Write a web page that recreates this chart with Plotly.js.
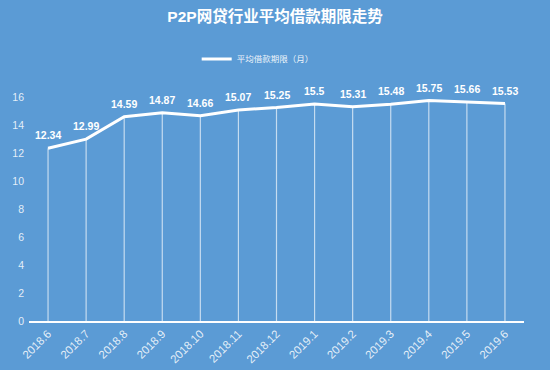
<!DOCTYPE html>
<html><head><meta charset="utf-8">
<script src="https://cdn.plot.ly/plotly-3.0.1.min.js"></script>
<style>body{margin:0;padding:0;background:#5b9bd5;}</style>
</head><body>
<div id="chart" style="width:550px;height:370px;"></div>
<script>
const months = ["2018.6","2018.7","2018.8","2018.9","2018.10","2018.11","2018.12","2019.1","2019.2","2019.3","2019.4","2019.5","2019.6"];
const terms = [12.34,12.99,14.59,14.87,14.66,15.07,15.25,15.5,15.31,15.48,15.75,15.66,15.53];
const seriesName = "平均借款期限（月）";
const chartTitle = "P2P网贷行业平均借款期限走势";

const dropLines = {
  x: months, y: terms, type: "scatter", mode: "none", showlegend: false, hoverinfo: "skip",
  error_y: {type: "data", symmetric: false, array: terms.map(() => 0), arrayminus: terms, width: 0, thickness: 1.2, color: "rgba(255,255,255,0.65)"}
};
const line = {
  x: months, y: terms, type: "scatter", mode: "lines", name: seriesName,
  line: {color: "#ffffff", width: 3}
};
const labels = terms.map((v, i) => ({
  x: i, y: v, xref: "x", yref: "y", text: "<b>" + v + "</b>", showarrow: false,
  yanchor: "bottom", yshift: 5,
  font: {family: "Arial, Liberation Sans, sans-serif", size: 10.5, color: "#ffffff"}
}));
const layout = {
  width: 550, height: 370,
  paper_bgcolor: "#5b9bd5", plot_bgcolor: "#5b9bd5",
  margin: {l: 29, r: 26, t: 97, b: 49},
  font: {family: "Arial, Liberation Sans, Noto Sans CJK SC, sans-serif", color: "#ffffff"},
  title: {text: "<b>" + chartTitle + "</b>", x: 0.5, xanchor: "center", y: 0.955, yanchor: "middle",
          font: {size: 15.5, color: "#ffffff", family: "Arial, Liberation Sans, Noto Sans CJK SC, sans-serif"}},
  showlegend: true,
  legend: {orientation: "h", x: 0.462, xanchor: "center", y: 1.17, yanchor: "middle",
           font: {size: 8.5, color: "rgba(255,255,255,0.9)"}, bgcolor: "rgba(0,0,0,0)", itemwidth: 30},
  annotations: labels,
  xaxis: {type: "category", range: [-0.5, 12.5], showgrid: false, zeroline: false,
          showline: true, linecolor: "#ffffff", linewidth: 1.5, ticks: "", tickangle: -45,
          tickfont: {size: 11.5, color: "rgba(255,255,255,0.85)"}},
  yaxis: {range: [0, 16], dtick: 2, showgrid: false, zeroline: false, showline: false, ticks: "",
          tickfont: {size: 10.5, color: "rgba(255,255,255,0.85)"}, ticklabelstandoff: 4}
};
Plotly.newPlot("chart", [dropLines, line], layout, {displayModeBar: false, staticPlot: true});
</script>
</body></html>
